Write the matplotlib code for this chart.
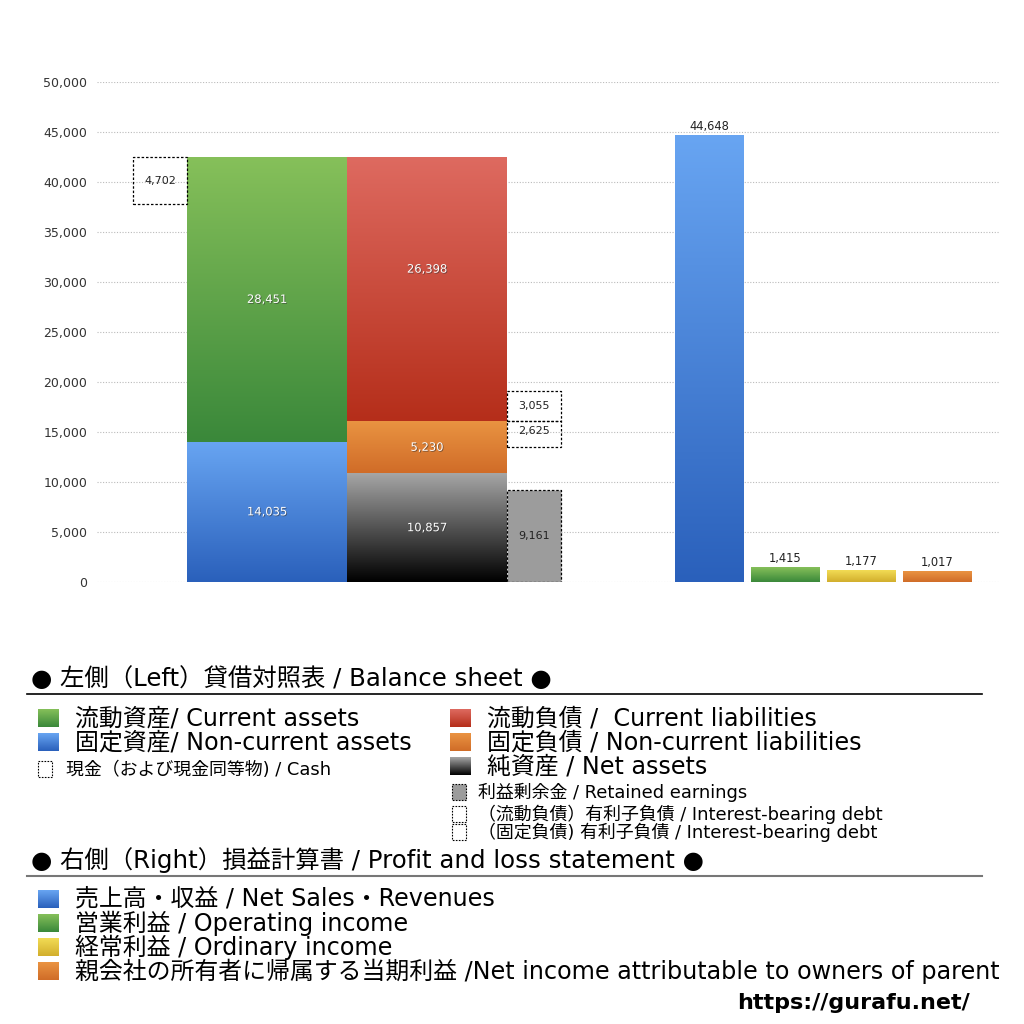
import numpy as np
import matplotlib
matplotlib.use('Agg')
import matplotlib.pyplot as plt
from matplotlib.colors import LinearSegmentedColormap
from matplotlib.patches import Rectangle
import matplotlib.patheffects as pe

plt.rcParams['font.family'] = ['DejaVu Sans', 'Noto Sans CJK JP']

# balance sheet (million yen)
non_current_assets = 14035
current_assets = 28451
cash = 4702
net_assets = 10857
non_current_liab = 5230
current_liab = 26398
retained_earnings = 9161
debt_current = 3055
debt_non_current = 2625

# profit and loss
pl_labels = ['売上高', '営業利益', '経常利益', '当期利益']
pl_values = [44648, 1415, 1177, 1017]

yticks = [0, 5000, 10000, 15000, 20000, 25000, 30000, 35000, 40000, 45000, 50000]

# colours (top, bottom)
GREEN = ('#86c05a', '#3a883a')
BLUE = ('#68a5f2', '#2a60bb')
RED = ('#de6a60', '#b52e1a')
ORANGE = ('#ea9442', '#d06c28')
BLACK = ('#a6a6a6', '#000000')
YELLOW = ('#f2dc55', '#d2ae2c')
GREY = '#9c9c9c'
DASH = (0, (2, 1.5))


def grad(ax, x0, x1, y0, y1, cols, z=2):
    cmap = LinearSegmentedColormap.from_list('g', [cols[1], cols[0]])
    c = np.linspace(0, 1, 256)[:, None]
    ax.imshow(c, extent=(x0, x1, y0, y1), origin='lower', cmap=cmap,
              aspect='auto', zorder=z, interpolation='bicubic')


def dbox(ax, x0, x1, y0, y1, face='none', z=3):
    ax.add_patch(Rectangle((x0, y0), x1 - x0, y1 - y0, facecolor=face,
                           edgecolor='black', lw=0.9, ls=DASH, zorder=z))


def fmt(v):
    return f'{v:,}'


fig = plt.figure(figsize=(10.24, 10.24), dpi=100)
ax = fig.add_axes([97 / 1024, 442 / 1024, 903 / 1024, 500 / 1024])

shadow = [pe.withSimplePatchShadow(offset=(0.6, -0.6), shadow_rgbFace='#333333', alpha=0.6)]

# left block: assets
bx0, bx1 = 187, 347
grad(ax, bx0, bx1, 0, non_current_assets, BLUE)
grad(ax, bx0, bx1, non_current_assets, non_current_assets + current_assets, GREEN)
ax.text((bx0 + bx1) / 2, non_current_assets / 2, fmt(non_current_assets), color='white',
        ha='center', va='center', fontsize=8.3, path_effects=shadow, zorder=5)
ax.text((bx0 + bx1) / 2, non_current_assets + current_assets / 2, fmt(current_assets),
        color='white', ha='center', va='center', fontsize=8.3, path_effects=shadow, zorder=5)
top_a = non_current_assets + current_assets
dbox(ax, 133, bx0, top_a - cash, top_a)
ax.text(160, top_a - cash / 2, fmt(cash), ha='center', va='center', fontsize=8, color='#222222')

# liabilities + net assets
lx0, lx1 = 347, 507
grad(ax, lx0, lx1, 0, net_assets, BLACK)
grad(ax, lx0, lx1, net_assets, net_assets + non_current_liab, ORANGE)
grad(ax, lx0, lx1, net_assets + non_current_liab, net_assets + non_current_liab + current_liab, RED)
for y, v in [(net_assets / 2, net_assets),
             (net_assets + non_current_liab / 2, non_current_liab),
             (net_assets + non_current_liab + current_liab * 0.5 + 2000, current_liab)]:
    ax.text((lx0 + lx1) / 2, y, fmt(v), color='white', ha='center', va='center',
            fontsize=8.3, path_effects=shadow, zorder=5)

rx0, rx1 = 507, 561
dbox(ax, rx0, rx1, 0, retained_earnings, face=GREY)
ax.text((rx0 + rx1) / 2, retained_earnings * 0.5, fmt(retained_earnings), ha='center',
        va='center', fontsize=8, color='#222222', zorder=5)
top_ncl = net_assets + non_current_liab
dbox(ax, rx0, rx1, top_ncl, top_ncl + debt_current)
dbox(ax, rx0, rx1, top_ncl - debt_non_current, top_ncl)
ax.text((rx0 + rx1) / 2, top_ncl + debt_current / 2, fmt(debt_current), ha='center',
        va='center', fontsize=8, color='#222222')
ax.text((rx0 + rx1) / 2, top_ncl - debt_non_current / 2 + 300, fmt(debt_non_current),
        ha='center', va='center', fontsize=8, color='#222222')

# right block: P&L
pl_x = [675, 751, 827, 903]
pl_w = 69
pl_cols = [BLUE, GREEN, YELLOW, ORANGE]
for x, v, c in zip(pl_x, pl_values, pl_cols):
    grad(ax, x, x + pl_w, 0, v, c)
    ax.text(x + pl_w / 2, v + 250, fmt(v), ha='center', va='bottom', fontsize=8.3, color='#222222')

ax.set_xlim(97, 1000)
ax.set_ylim(0, 50000)
ax.set_yticks(yticks)
ax.set_yticklabels([fmt(t) for t in yticks], fontsize=9, color='#333333')
ax.set_xticks([])
ax.tick_params(axis='y', length=0, pad=7)
ax.grid(axis='y', color='#bbbbbb', ls=(0, (1, 1.5)), lw=0.8)
ax.set_axisbelow(True)
for s in ax.spines.values():
    s.set_visible(False)

# legend area (pixel coordinates)
lg = fig.add_axes([0, 0, 1, 1])
lg.set_xlim(0, 1024)
lg.set_ylim(1024, 0)
lg.axis('off')
lg.patch.set_alpha(0)

lg.text(31, 679, '● 左側（Left）貸借対照表 / Balance sheet ●', fontsize=17.6, va='center')
lg.plot([27, 982], [694, 694], color='black', lw=1.2)
lg.text(31, 860, '● 右側（Right）損益計算書 / Profit and loss statement ●', fontsize=17.6, va='center')
lg.plot([27, 982], [876, 876], color='#777777', lw=1.5)


def sq(x, y, cols, w=21, h=18):
    cmap = LinearSegmentedColormap.from_list('g', [cols[0], cols[1]])
    c = np.linspace(0, 1, 64)[:, None]
    lg.imshow(c, extent=(x, x + w, y + h / 2, y - h / 2), origin='upper', cmap=cmap,
              aspect='auto', interpolation='bicubic')


def dsq(x, y, face='none'):
    lg.add_patch(Rectangle((x, y - 8), 14, 16, facecolor=face, edgecolor='black',
                           lw=0.8, ls=(0, (1.5, 1.2))))


ITEM_FS = 17.2
SMALL_FS = 12.9

items_left = [(718, GREEN, '流動資産/ Current assets'),
              (742, BLUE, '固定資産/ Non-current assets')]
for y, c, t in items_left:
    sq(38, y, c)
    lg.text(75, y, t, fontsize=ITEM_FS, va='center')
dsq(38, 769)
lg.text(66, 770, '現金（および現金同等物) / Cash', fontsize=SMALL_FS, va='center')

items_right = [(718, RED, '流動負債 /  Current liabilities'),
               (742, ORANGE, '固定負債 / Non-current liabilities'),
               (766, BLACK, '純資産 / Net assets')]
for y, c, t in items_right:
    sq(450, y, c)
    lg.text(487, y, t, fontsize=ITEM_FS, va='center')
dsq(452, 792, face=GREY)
lg.text(478, 792, '利益剰余金 / Retained earnings', fontsize=SMALL_FS, va='center')
dsq(452, 814)
lg.text(478, 814, '（流動負債）有利子負債 / Interest-bearing debt', fontsize=SMALL_FS, va='center')
dsq(452, 832)
lg.text(478, 832, '（固定負債) 有利子負債 / Interest-bearing debt', fontsize=SMALL_FS, va='center')

items_pl = [(899, BLUE, '売上高・収益 / Net Sales・Revenues'),
            (923, GREEN, '営業利益 / Operating income'),
            (947, YELLOW, '経常利益 / Ordinary income'),
            (971, ORANGE, '親会社の所有者に帰属する当期利益 /Net income attributable to owners of parent')]
for y, c, t in items_pl:
    sq(38, y, c)
    lg.text(75, y, t, fontsize=ITEM_FS, va='center')

lg.text(970, 1003, 'https://gurafu.net/', fontsize=16, fontweight='bold', ha='right', va='center')

fig.savefig('out.png', dpi=100, facecolor='white')
